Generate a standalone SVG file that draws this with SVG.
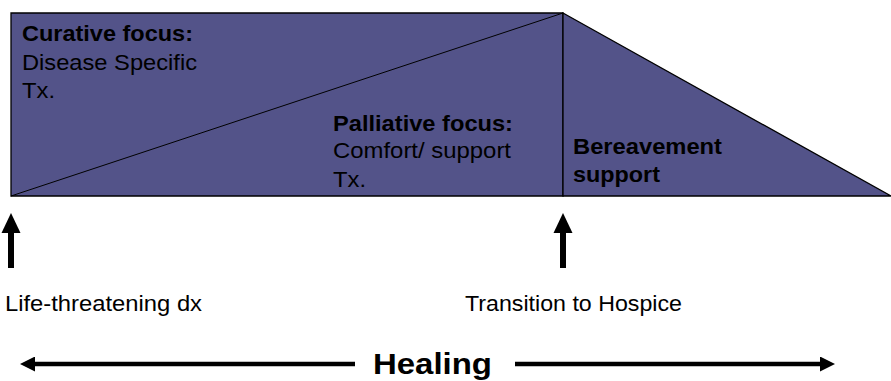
<svg xmlns="http://www.w3.org/2000/svg" width="891" height="381" viewBox="0 0 891 381">
<style>
.shape{fill:#535389;stroke:#000;stroke-width:1.3}
.edge{stroke:#000;fill:none}
.t{font-family:"Liberation Sans",Arial,sans-serif;font-size:22px;fill:#000}
.b{font-weight:bold}
.h{font-size:30px}
</style>
<defs>
<marker id="vh" markerUnits="userSpaceOnUse" markerWidth="20" markerHeight="20" refX="0" refY="9.5" orient="auto" viewBox="0 0 20 19">
<path d="M0,0 L20,9.5 L0,19 z" fill="#000"/>
</marker>
<marker id="hh" markerUnits="userSpaceOnUse" markerWidth="15" markerHeight="15" refX="0" refY="7.5" orient="auto" viewBox="0 0 15 15">
<path d="M0,0 L15,7.5 L0,15 z" fill="#000"/>
</marker>
</defs>
<g id="curative">
<path class="shape" d="M11,13 L563,13 L563,196 L11,196 Z"/>
<line class="edge" x1="11" y1="196" x2="563" y2="13" stroke-width="1"/>
<text class="t b" x="22" y="41" textLength="171" lengthAdjust="spacingAndGlyphs">Curative focus:</text>
<text class="t" x="22" y="70" textLength="175" lengthAdjust="spacingAndGlyphs">Disease Specific</text>
<text class="t" x="22" y="98" textLength="33" lengthAdjust="spacingAndGlyphs">Tx.</text>
</g>
<g id="palliative">
<text class="t b" x="333" y="131" textLength="180" lengthAdjust="spacingAndGlyphs">Palliative focus:</text>
<text class="t" x="333" y="158" textLength="178" lengthAdjust="spacingAndGlyphs">Comfort/ support</text>
<text class="t" x="333" y="187" textLength="33" lengthAdjust="spacingAndGlyphs">Tx.</text>
</g>
<g id="bereavement">
<path class="shape" d="M563,13 L891,196 L563,196 Z"/>
<text class="t b" x="573" y="154" textLength="149" lengthAdjust="spacingAndGlyphs">Bereavement</text>
<text class="t b" x="573" y="182" textLength="87" lengthAdjust="spacingAndGlyphs">support</text>
</g>
<g id="dx">
<text class="t" x="5" y="311" textLength="197" lengthAdjust="spacingAndGlyphs">Life-threatening dx</text>
</g>
<g id="hospice">
<text class="t" x="465" y="311" textLength="217" lengthAdjust="spacingAndGlyphs">Transition to Hospice</text>
</g>
<g id="healing">
<text class="t b h" x="373" y="374" textLength="119" lengthAdjust="spacingAndGlyphs">Healing</text>
</g>
<g id="connectors">
<line class="edge" x1="11" y1="268" x2="11" y2="233" stroke-width="6" marker-end="url(#vh)"/>
<line class="edge" x1="563" y1="268" x2="563" y2="233" stroke-width="6" marker-end="url(#vh)"/>
<line class="edge" x1="355" y1="364" x2="35" y2="364" stroke-width="4.5" marker-end="url(#hh)"/>
<line class="edge" x1="515" y1="364" x2="820" y2="364" stroke-width="4.5" marker-end="url(#hh)"/>
</g>
</svg>
